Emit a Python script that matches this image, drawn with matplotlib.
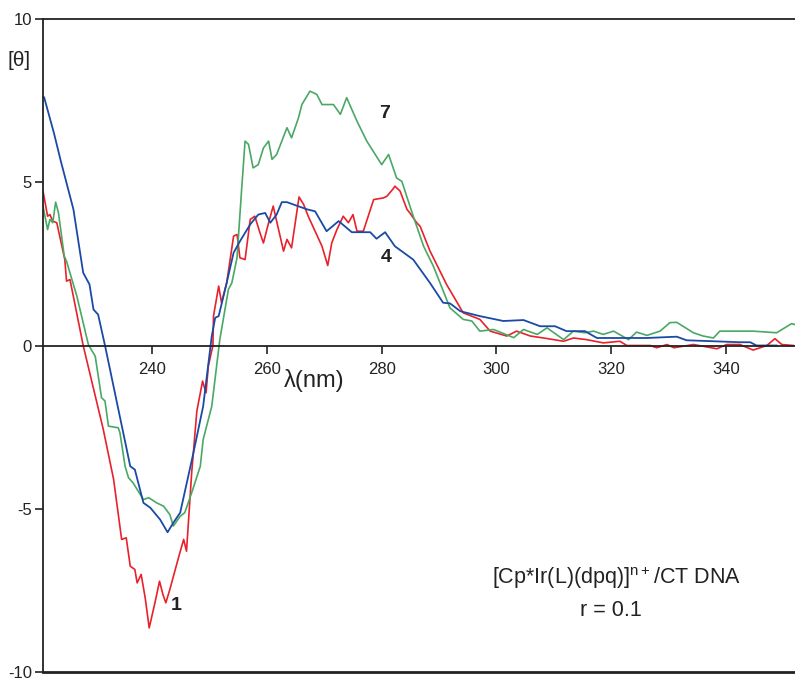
import numpy as np
import matplotlib
matplotlib.use("Agg")
import matplotlib.pyplot as plt

plt.rcParams['font.family'] = ['Liberation Sans', 'DejaVu Sans']
plt.rcParams['axes.unicode_minus'] = False

# CD spectra: wavelength [nm], [theta]
wl_1 = [221.0, 221.8, 222.2, 222.7, 223.4, 224.8, 225.1, 225.7, 228.0, 231.5,
        233.3, 234.7, 235.5, 236.2, 237.0, 237.4, 238.1, 238.8, 239.5, 240.5,
        241.3, 241.9, 242.4, 243.1, 244.6, 245.5, 246.0, 246.9, 247.8, 248.8,
        249.4, 249.8, 250.6, 250.7, 251.6, 252.1, 253.0, 254.2, 254.8, 255.3,
        256.2, 257.1, 257.9, 258.8, 259.4, 260.3, 261.1, 262.9, 263.5, 264.3,
        265.6, 266.4, 267.2, 268.4, 269.6, 270.6, 271.3, 272.2, 273.3, 274.2,
        275.0, 275.7, 276.8, 278.6, 280.3, 280.9, 282.0, 282.3, 283.2, 284.4,
        284.9, 286.1, 286.7, 288.4, 291.3, 294.2, 297.1, 298.9, 301.8, 303.5,
        305.9, 308.2, 311.7, 313.4, 315.7, 318.6, 321.5, 322.7, 326.8, 327.9,
        329.7, 330.9, 334.3, 338.4, 340.1, 342.4, 344.7, 347.1, 348.5, 349.7,
        351.7]
th_1 = [4.73, 3.96, 4.01, 3.81, 3.76, 2.63, 1.97, 2.02, 0.0, -2.57,
        -4.10, -5.94, -5.89, -6.76, -6.86, -7.27, -7.01, -7.73, -8.65, -7.88,
        -7.22, -7.63, -7.88, -7.47, -6.50, -5.94, -6.30, -3.90, -2.01, -1.09,
        -1.45, -0.63, 0.0, 0.90, 1.82, 1.31, 1.92, 3.35, 3.40, 2.69,
        2.63, 3.86, 3.96, 3.45, 3.14, 3.76, 4.27, 2.89, 3.25, 2.99,
        4.55, 4.32, 3.96, 3.50, 3.04, 2.45, 3.14, 3.55, 3.96, 3.76,
        4.01, 3.50, 3.50, 4.47, 4.52, 4.57, 4.80, 4.88, 4.73, 4.17,
        4.06, 3.76, 3.65, 2.90, 1.87, 1.00, 0.80, 0.44, 0.29, 0.44,
        0.29, 0.23, 0.13, 0.23, 0.18, 0.08, 0.13, 0.0, 0.0, -0.07,
        0.03, -0.07, 0.03, -0.10, 0.03, 0.03, -0.14, 0.0, 0.21, 0.03,
        0.0]

wl_4 = [221.2, 222.9, 224.1, 226.3, 228.0, 229.1, 229.8, 230.6, 231.8, 236.2,
        237.0, 238.5, 239.7, 241.4, 242.7, 243.7, 244.9, 247.2, 248.9, 250.4,
        251.0, 251.6, 253.0, 254.2, 255.3, 257.1, 258.5, 259.7, 260.6, 261.7,
        262.6, 263.5, 267.0, 268.4, 270.4, 272.5, 274.8, 278.0, 279.1, 280.6,
        282.3, 285.5, 288.4, 290.7, 291.9, 293.7, 297.1, 301.2, 304.7, 307.6,
        310.2, 312.2, 315.4, 317.5, 320.4, 322.7, 326.2, 331.4, 333.1, 337.8,
        342.4, 344.2, 345.3, 348.8]
th_4 = [7.60, 6.51, 5.65, 4.17, 2.23, 1.87, 1.10, 0.95, 0.0, -3.70,
        -3.80, -4.82, -4.97, -5.33, -5.72, -5.43, -5.12, -3.29, -1.86, 0.29,
        0.85, 0.90, 1.92, 2.84, 3.19, 3.71, 4.01, 4.06, 3.76, 4.01,
        4.39, 4.39, 4.17, 4.11, 3.50, 3.81, 3.47, 3.47, 3.27, 3.47,
        3.04, 2.63, 1.92, 1.31, 1.29, 1.05, 0.90, 0.75, 0.78, 0.59,
        0.59, 0.44, 0.44, 0.23, 0.23, 0.23, 0.23, 0.27, 0.16, 0.13,
        0.10, 0.10, 0.0, 0.0]

wl_7 = [221.0, 221.8, 222.2, 222.7, 223.2, 223.7, 224.7, 225.1, 226.9, 228.9,
        230.1, 231.2, 231.8, 232.4, 234.1, 234.4, 235.3, 235.9, 236.7, 238.5,
        239.4, 240.8, 242.0, 243.1, 243.7, 244.9, 245.7, 246.9, 248.4, 248.9,
        250.4, 251.8, 253.3, 253.9, 254.8, 255.6, 256.2, 256.8, 257.6, 258.5,
        259.4, 260.3, 260.9, 261.7, 263.5, 264.3, 265.5, 266.1, 267.5, 268.7,
        269.6, 271.6, 272.8, 273.9, 275.7, 277.4, 280.0, 281.2, 282.6, 283.5,
        285.5, 287.3, 289.0, 291.9, 294.2, 295.7, 297.1, 299.5, 303.0, 304.7,
        307.1, 308.8, 311.7, 313.4, 315.4, 316.9, 318.6, 320.4, 323.0, 324.4,
        326.2, 328.5, 330.2, 331.4, 334.3, 336.0, 337.8, 338.9, 341.2, 344.7,
        348.8, 351.4, 352.0]
th_7 = [4.27, 3.55, 3.86, 3.76, 4.39, 4.06, 2.74, 2.58, 1.51, 0.03,
        -0.33, -1.60, -1.70, -2.47, -2.52, -2.67, -3.70, -4.05, -4.21, -4.72,
        -4.66, -4.82, -4.92, -5.18, -5.53, -5.23, -5.12, -4.51, -3.70, -2.88,
        -1.86, 0.18, 1.72, 1.92, 2.69, 4.78, 6.26, 6.16, 5.44, 5.54,
        6.05, 6.26, 5.70, 5.85, 6.67, 6.36, 6.97, 7.38, 7.79, 7.69,
        7.38, 7.38, 7.08, 7.59, 6.87, 6.26, 5.54, 5.85, 5.13, 5.03,
        3.96, 3.04, 2.43, 1.15, 0.80, 0.75, 0.44, 0.49, 0.24, 0.49,
        0.34, 0.54, 0.18, 0.44, 0.39, 0.44, 0.34, 0.44, 0.18, 0.41,
        0.31, 0.44, 0.70, 0.71, 0.39, 0.29, 0.23, 0.44, 0.44, 0.44,
        0.39, 0.67, 0.64]

x_ticks = [240, 260, 280, 300, 320, 340]
y_ticks = [-10, -5, 0, 5, 10]

fig = plt.figure(figsize=(7.95, 6.78), dpi=100)
ax = fig.add_axes([43 / 795, 6 / 678, 1 - 43 / 795, (672 - 19) / 678])

ax.plot(wl_1, th_1, color='#e8212b', lw=1.2)
ax.plot(wl_7, th_7, color='#4aa865', lw=1.2)
ax.plot(wl_4, th_4, color='#1a4aa6', lw=1.3)

ax.set_xlim(221, 352)
ax.set_ylim(-10, 10)

ax.spines['right'].set_visible(False)
ax.spines['bottom'].set_position(('data', 0))
for s in ['left', 'top', 'bottom']:
    ax.spines[s].set_linewidth(1.3)
    ax.spines[s].set_color('#222222')
ax.axhline(-10, color='#222222', lw=2.0, clip_on=False)

ax.set_xticks(x_ticks)
ax.set_yticks(y_ticks)
ax.tick_params(axis='x', direction='out', length=6, width=1.2, pad=6,
               labelsize=12, colors='#222222')
ax.tick_params(axis='y', direction='out', length=6, width=1.2, pad=2,
               labelsize=12, colors='#222222')
ax.xaxis.set_ticks_position('bottom')

ax.text(314 / 795, 1 - 380 / 678, 'λ(nm)', transform=fig.transFigure,
        ha='center', va='center', fontsize=17, color='#222222')
ax.text(19 / 795, 1 - 60 / 678, '[θ]', transform=fig.transFigure,
        ha='center', va='center', fontsize=15, color='#222222')

ax.text(385 / 795, 1 - 113 / 678, '7', transform=fig.transFigure,
        ha='center', va='center', fontsize=14, fontweight='bold', color='#222222')
ax.text(386 / 795, 1 - 257 / 678, '4', transform=fig.transFigure,
        ha='center', va='center', fontsize=14, fontweight='bold', color='#222222')
ax.text(176 / 795, 1 - 606 / 678, '1', transform=fig.transFigure,
        ha='center', va='center', fontsize=14, fontweight='bold', color='#222222')

ax.text(617 / 795, 1 - 578 / 678, r'[Cp*Ir(L)(dpq)]$^{\mathregular{n+}}$/CT DNA',
        transform=fig.transFigure, ha='center', va='center', fontsize=15.5,
        color='#222222')
ax.text(611 / 795, 1 - 611 / 678, 'r = 0.1', transform=fig.transFigure,
        ha='center', va='center', fontsize=15.5, color='#222222')

fig.savefig('out.png', dpi=100)
